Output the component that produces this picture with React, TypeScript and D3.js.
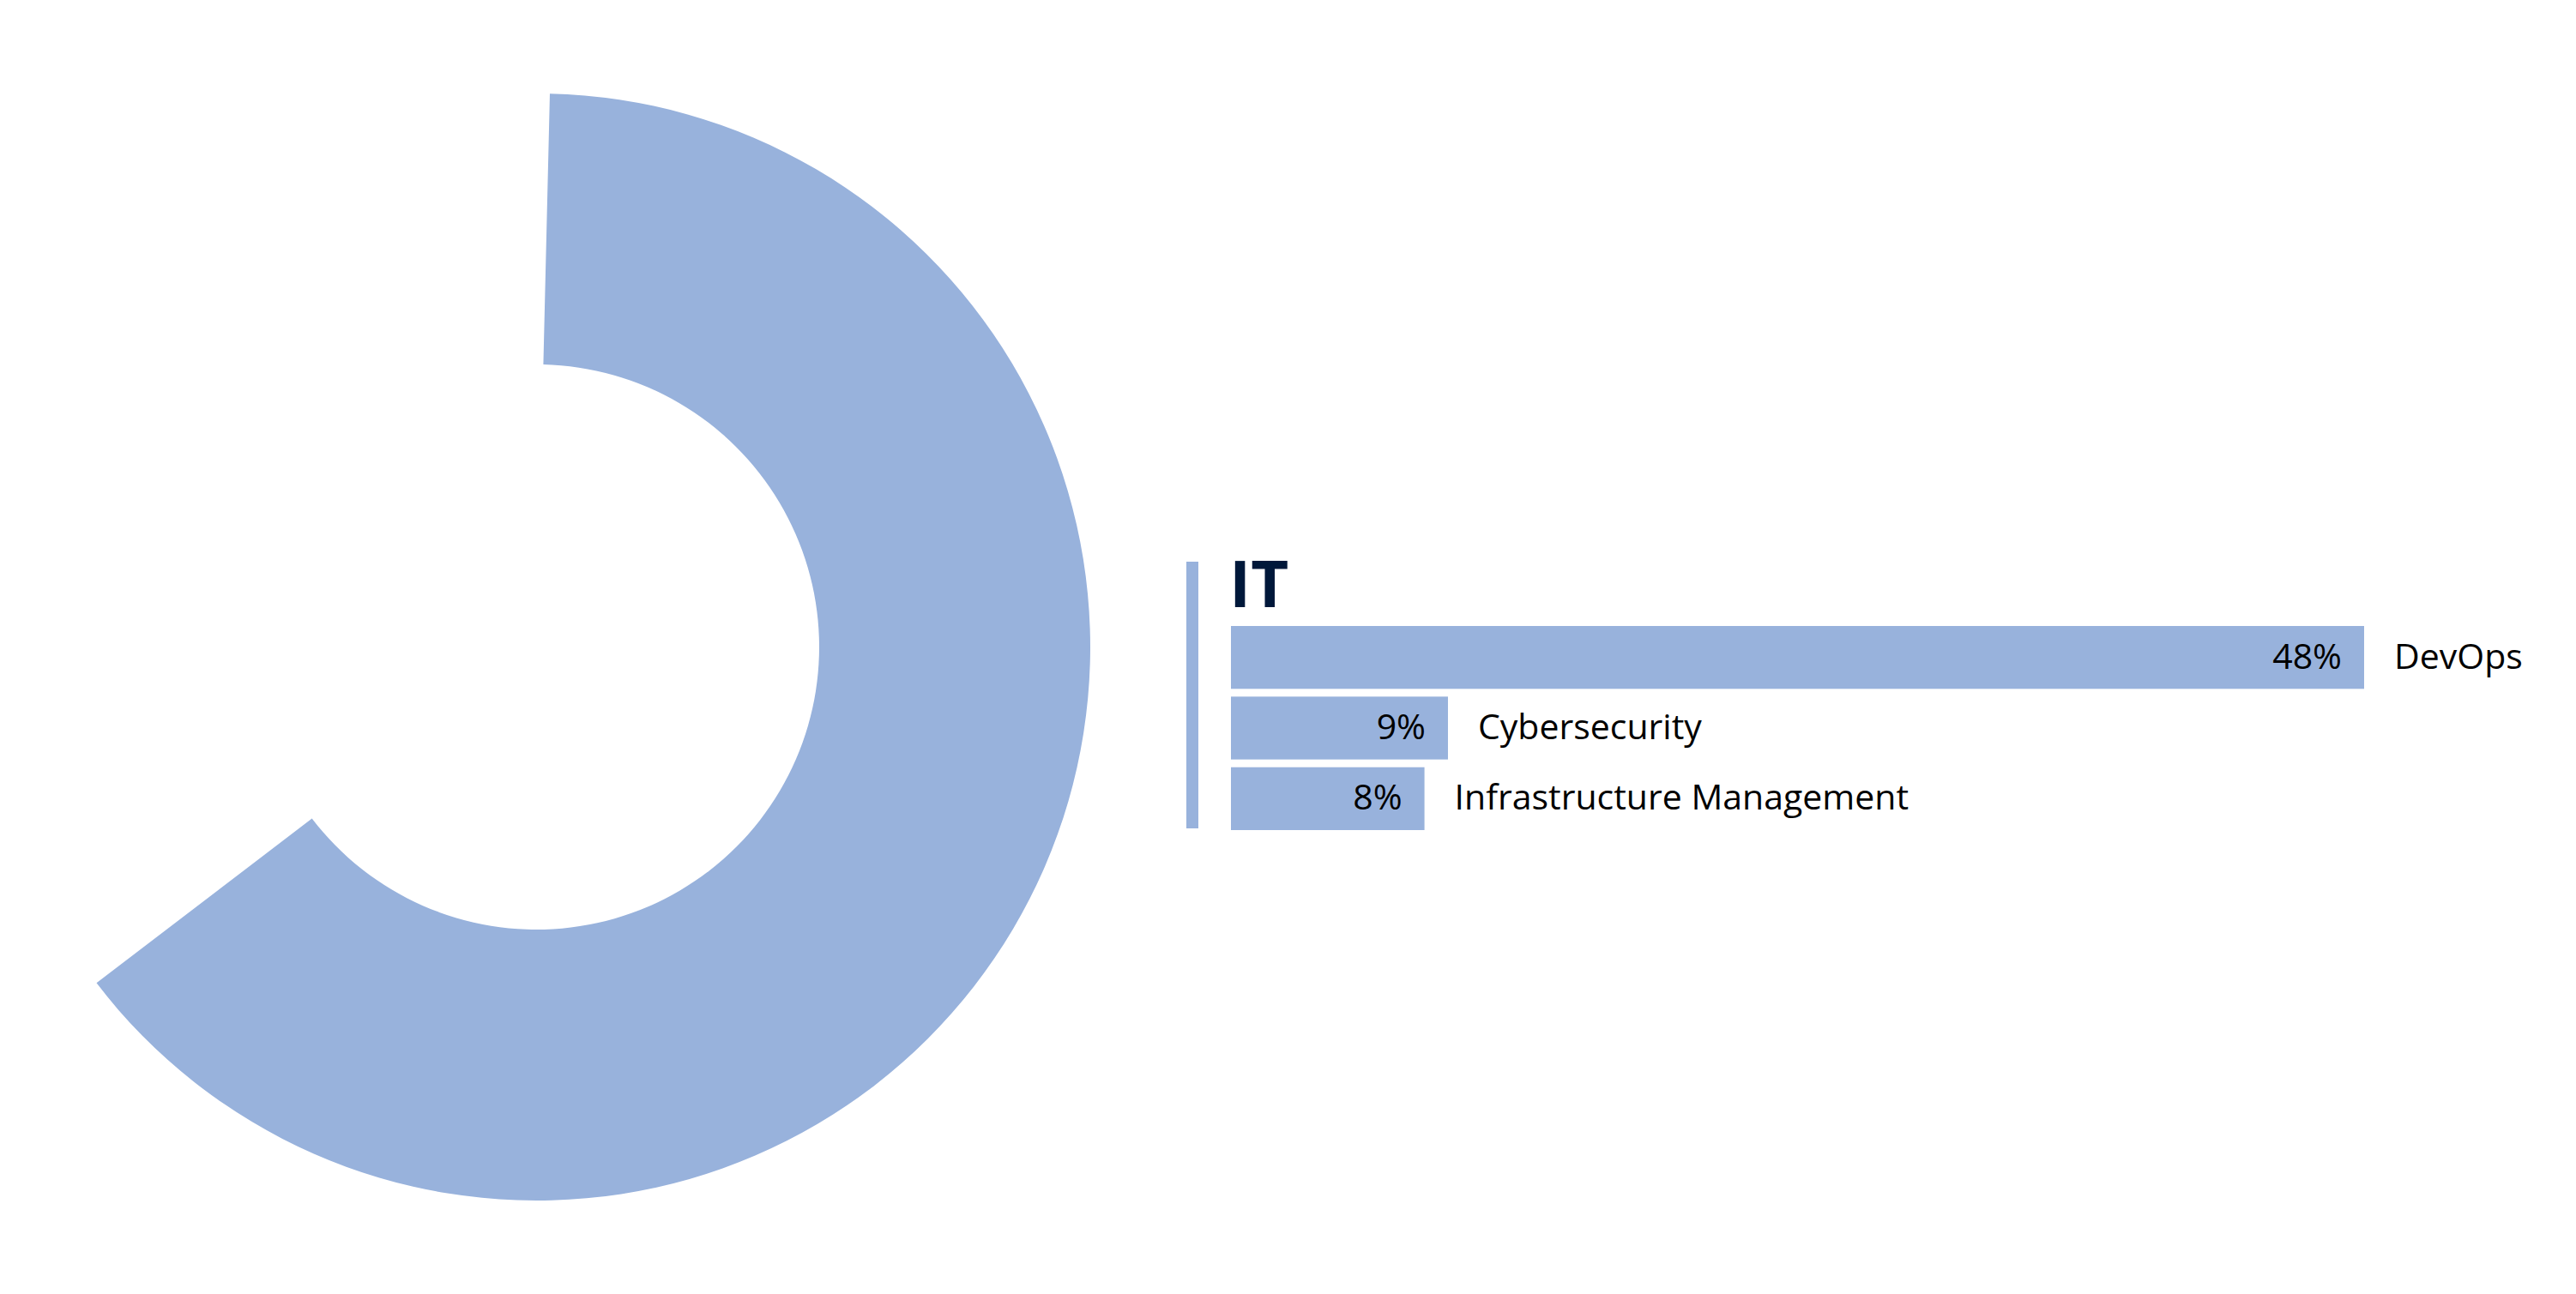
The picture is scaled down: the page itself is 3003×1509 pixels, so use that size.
import React from "react";
import * as d3 from "d3";

const groupTitle = "IT";
const categories = ["DevOps", "Cybersecurity", "Infrastructure Management"];
const values = [48, 9, 8];
const valueLabels = ["48%", "9%", "8%"];

const W = 3003;
const H = 1509;
const COLOR = "#98b2dc";
const FONT = "'Open Sans', 'Noto Sans', sans-serif";

export default function App() {
  const total = d3.sum(values);
  const cx = 625.5;
  const cy = 754.5;
  const rOuter = 645.5;
  const rInner = 329.5;
  const gap = 0.024;

  const angle = d3.scaleLinear().domain([0, 100]).range([0, 2 * Math.PI]);
  const arcPath = d3
    .arc<any>()
    .innerRadius(rInner)
    .outerRadius(rOuter)
    .startAngle(angle(0) + gap)
    .endAngle(angle(total) - gap)({} as any) as string;

  const x0 = 1435;
  const x = d3.scaleLinear().domain([0, 48]).range([6.5, 1321]);
  const y = d3.scaleBand<string>().domain(categories).range([730, 968]).paddingInner(0.11);

  return (
    <svg
      width={W}
      height={H}
      style={{ position: "absolute", left: 0, top: 0, background: "#fff" }}
      fontFamily={FONT}
    >
      <path d={arcPath} transform={`translate(${cx},${cy})`} fill={COLOR} />

      <rect x={1383} y={655} width={14} height={311} fill={COLOR} />
      <text x={1433} y={708} fontSize={76} fontWeight={700} fill="#00183a">
        {groupTitle}
      </text>

      {categories.map((c, i) => {
        const yy = y(c)!;
        const bw = y.bandwidth();
        const end = x0 + x(values[i]);
        const base = yy + bw / 2 + 13;
        return (
          <g key={c}>
            <rect x={x0} y={yy} width={x(values[i])} height={bw} fill={COLOR} />
            <text x={end - 26} y={base} fontSize={41} textAnchor="end" fill="#000">
              {valueLabels[i]}
            </text>
            <text x={end + 35} y={base} fontSize={41} fill="#000">
              {c}
            </text>
          </g>
        );
      })}
    </svg>
  );
}
